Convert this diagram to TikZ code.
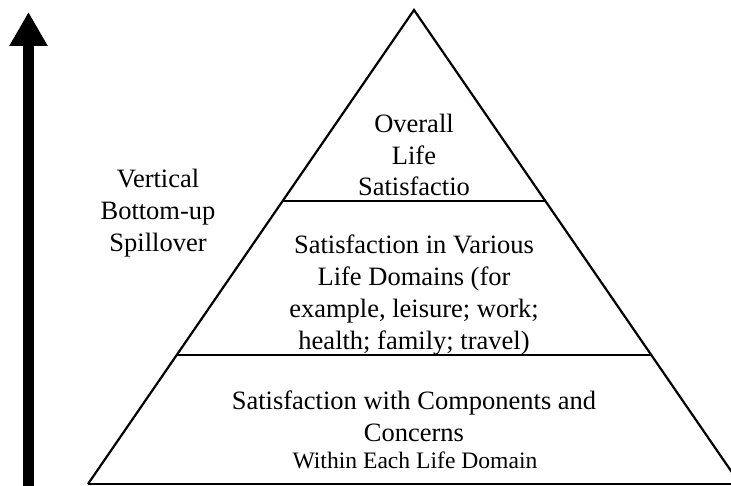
\documentclass[tikz,border=0pt]{standalone}
\usepackage{fontspec}
\setmainfont{Liberation Serif}
\usetikzlibrary{arrows.meta}
\begin{document}
\begin{tikzpicture}[x=1pt,y=1pt,
  big/.style={font=\fontsize{26.5}{31.7}\selectfont, align=center, inner sep=0pt},
  small/.style={font=\fontsize{23.6}{28}\selectfont, align=center, inner sep=0pt},
  edge/.style={line width=2.2pt, line join=miter},
  thin divider/.style={line width=1.6pt},
  thick divider/.style={line width=2.4pt}]
\useasboundingbox (0,0) rectangle (731,486);
\begin{scope}
\clip (0,0) rectangle (731,486);
% pyramid corners
\coordinate (apex) at (414,476);
\coordinate (bl) at (88,2);
\coordinate (br) at (740,2);
\coordinate (d1l) at (283,285);
\coordinate (d1r) at (545,285);
\coordinate (d2l) at (177,131);
\coordinate (d2r) at (651,131);
\draw[edge] (bl) -- (apex) -- (br);
\draw[thick divider] (bl) -- (br);
\draw[thin divider] (d1l) -- (d1r);
\draw[thick divider] (d2l) -- (d2r);
\end{scope}
% arrow
\coordinate (abot) at (28.5,-2);
\coordinate (atop) at (28.5,474);
\draw[line width=11.5pt, -{Triangle[width=36pt,length=34pt]}] (abot) -- (atop);
% texts
\node[big] (top) at (414,331) {Overall\\Life\\Satisfactio};
\node[big] (spill) at (158,273) {Vertical\\Bottom-up\\Spillover};
\node[big] (mid) at (414,191) {Satisfaction in Various\\Life Domains (for\\example, leisure; work;\\health; family; travel)};
\node[big] (bot) at (414,70) {Satisfaction with Components and\\Concerns};
\node[small] (botsub) at (415,26) {Within Each Life Domain};
\end{tikzpicture}
\end{document}
